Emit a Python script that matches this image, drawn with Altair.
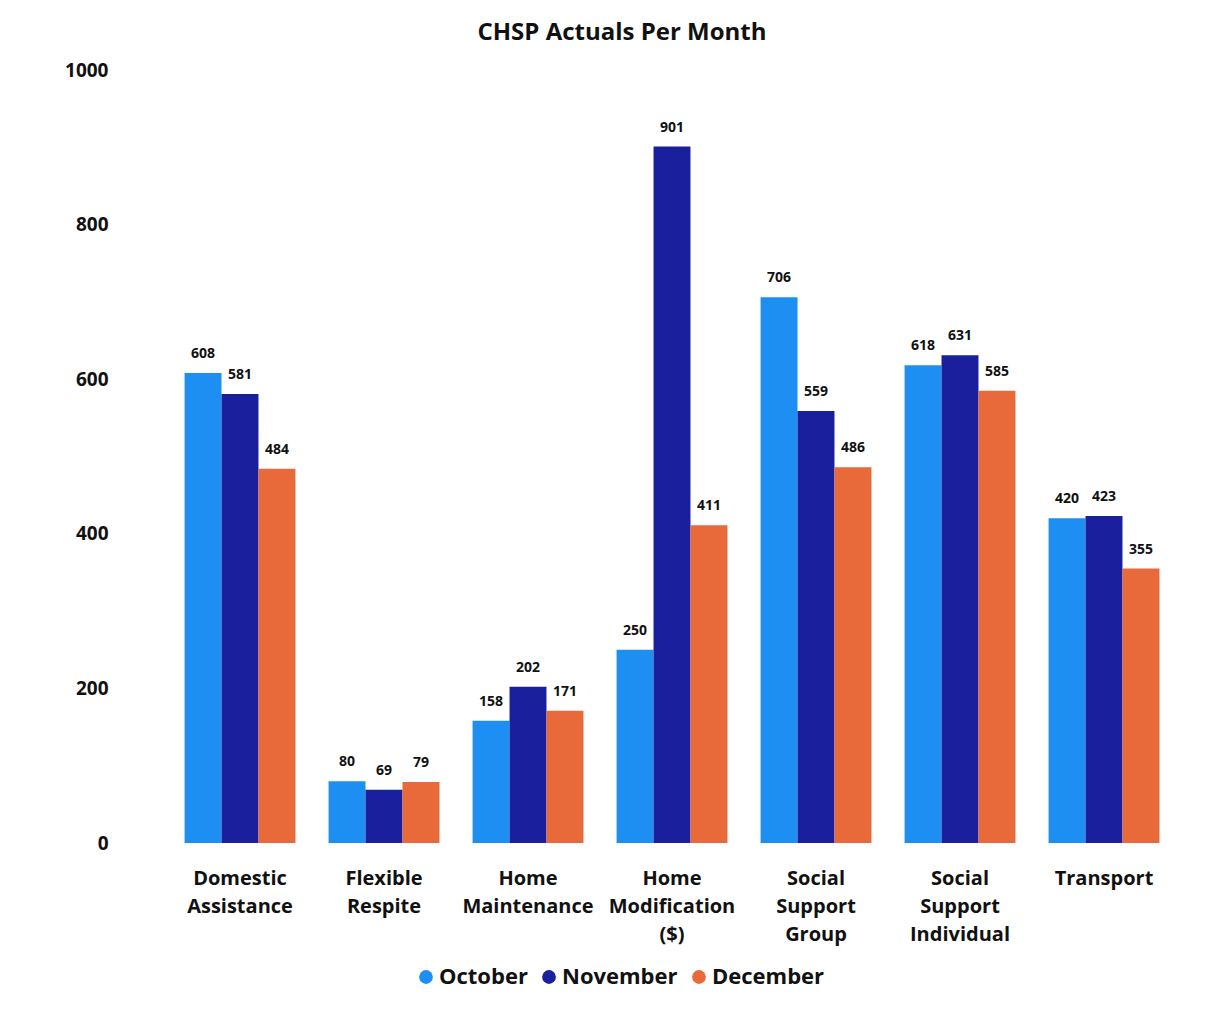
import altair as alt
import pandas as pd

categories = ["Domestic Assistance", "Flexible Respite", "Home Maintenance",
              "Home Modification ($)", "Social Support Group",
              "Social Support Individual", "Transport"]
cat_labels = ["Domestic|Assistance", "Flexible|Respite", "Home|Maintenance",
              "Home|Modification|($)", "Social|Support|Group",
              "Social|Support|Individual", "Transport"]
months = ["October", "November", "December"]
october = [608, 80, 158, 250, 706, 618, 420]
november = [581, 69, 202, 901, 559, 631, 423]
december = [484, 79, 171, 411, 486, 585, 355]
colors = ["#1E8FF2", "#1A1F9E", "#E8693A"]

rows = []
for i, c in enumerate(cat_labels):
    for m, vals in zip(months, [october, november, december]):
        rows.append({"Category": c, "Month": m, "Value": vals[i]})
df = pd.DataFrame(rows)

FONT = "Open Sans"

base = alt.Chart(df).encode(
    x=alt.X("Category:N", sort=cat_labels,
            scale=alt.Scale(paddingInner=0.23, paddingOuter=0.115),
            axis=alt.Axis(title=None, labelAngle=0, domain=False, ticks=False,
                          labelPadding=35, labelFontSize=20, labelFont=FONT,
                          labelFontWeight="bold", labelColor="#111111",
                          labelLineHeight=28, labelBaseline="middle",
                          labelExpr="split(datum.label, '|')")),
    xOffset=alt.XOffset("Month:N", sort=months),
)

bars = base.mark_bar().encode(
    y=alt.Y("Value:Q", scale=alt.Scale(domain=[0, 1000]),
            axis=alt.Axis(title=None, values=[0, 200, 400, 600, 800, 1000],
                          format="d",
                          grid=False, domain=False, ticks=False,
                          labelPadding=60, labelFontSize=19, labelFont=FONT,
                          labelFontWeight="bold", labelColor="#111111")),
    color=alt.Color("Month:N", sort=months,
                    scale=alt.Scale(domain=months, range=colors),
                    legend=alt.Legend(title=None, orient="none", direction="horizontal",
                                      legendX=247, legendY=123 + 773,
                                      symbolType="circle", symbolSize=190,
                                      labelFontSize=22, labelFont=FONT,
                                      labelFontWeight="bold", labelColor="#111111",
                                      columnPadding=10, labelOffset=2,
                                      symbolStrokeWidth=0)),
)

labels = base.mark_text(dy=-19, fontSize=14, font=FONT, fontWeight="bold",
                        color="#111111").encode(
    y=alt.Y("Value:Q"),
    text=alt.Text("Value:Q"),
)

chart = alt.layer(bars, labels).properties(
    width=1008, height=773,
    background="white",
    title=alt.TitleParams("CHSP Actuals Per Month", fontSize=24, font=FONT,
                          fontWeight="bold", color="#111111", offset=16,
                          anchor="middle", dx=-50),
    autosize=alt.AutoSizeParams(type="none"),
    padding={"left": 160, "top": 62, "right": 30, "bottom": 160},
).configure_view(strokeWidth=0, stroke=None)

chart.save("out.html", embed_options={"renderer": "svg", "actions": False})
